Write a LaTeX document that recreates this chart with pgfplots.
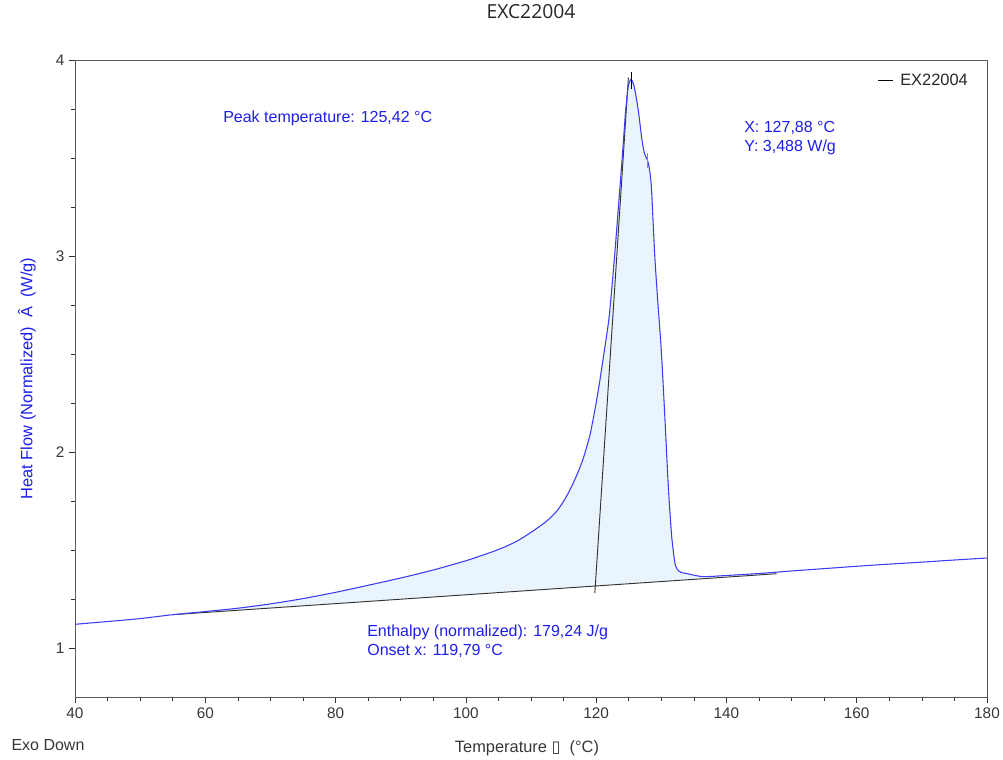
\documentclass[border=0pt]{standalone}
\usepackage{pgfplots}
\pgfplotsset{compat=1.18}
\usepackage{fontspec}
\setmainfont{Liberation Sans}
\newfontfamily\titlefont{Open Sans}
\newfontfamily\symfont{DejaVu Sans}
\usetikzlibrary{calc}
\definecolor{curveblue}{RGB}{60,60,245}
\definecolor{textblue}{RGB}{30,30,235}
\definecolor{fillblue}{RGB}{234,244,253}
\definecolor{ticklab}{RGB}{55,55,55}
\pgfplotstableread{
T Y
40 1.121
45 1.135
50 1.150
55 1.170
60 1.186
65 1.203
70 1.225
75 1.252
80 1.284
85 1.320
90 1.357
95 1.398
100 1.445
102 1.467
104 1.490
106 1.516
108 1.548
110 1.590
111 1.613
112 1.637
113 1.665
114 1.700
115 1.748
116 1.808
117 1.880
118 1.965
119 2.080
119.5 2.160
120 2.250
120.5 2.350
121 2.460
121.5 2.570
122 2.690
122.5 2.870
123 3.070
123.5 3.285
124 3.500
124.5 3.730
124.9 3.860
125.2 3.895
125.42 3.900
125.8 3.870
126.2 3.800
126.6 3.710
127.0 3.600
127.4 3.525
127.88 3.488
128.2 3.440
128.5 3.340
129.0 3.000
129.5 2.750
129.9 2.570
130.2 2.400
130.57 2.163
131.08 1.823
131.6 1.568
132.1 1.432
132.5 1.400
133.0 1.386
134.0 1.379
136.4 1.364
140 1.370
145 1.380
150 1.393
155 1.405
160 1.417
165 1.428
170 1.438
175 1.449
180 1.459
}\curve
\pgfplotstableread{
T Y
55 1.170
60 1.186
65 1.203
70 1.225
75 1.252
80 1.284
85 1.320
90 1.357
95 1.398
100 1.445
102 1.467
104 1.490
106 1.516
108 1.548
110 1.590
111 1.613
112 1.637
113 1.665
114 1.700
115 1.748
116 1.808
117 1.880
118 1.965
119 2.080
119.5 2.160
120 2.250
120.5 2.350
121 2.460
121.5 2.570
122 2.690
122.5 2.870
123 3.070
123.5 3.285
124 3.500
124.5 3.730
124.9 3.860
125.2 3.895
125.42 3.900
125.8 3.870
126.2 3.800
126.6 3.710
127.0 3.600
127.4 3.525
127.88 3.488
128.2 3.440
128.5 3.340
129.0 3.000
129.5 2.750
129.9 2.570
130.2 2.400
130.57 2.163
131.08 1.823
131.6 1.568
132.1 1.432
132.5 1.400
133.0 1.386
134.0 1.379
136.4 1.358
136.4 1.354
55 1.170
}\area
\begin{document}
\begin{tikzpicture}
\begin{axis}[
  scale only axis,
  width=684pt, height=477.75pt,
  xmin=40, xmax=180, ymin=0.75, ymax=4,
  xtick={40,60,...,180}, ytick={1,2,3,4},
  minor x tick num=3, minor y tick num=3,
  tick align=outside,
  xtick pos=bottom, ytick pos=left,
  major tick length=4.5pt, minor tick length=3pt,
  tick style={black!80, line width=0.5pt},
  axis line style={black!65, line width=0.6pt},
  /pgf/number format/assume math mode=true,
  ticklabel style={font=\fontsize{11.5}{13}\selectfont, text=ticklab},
  xlabel={Temperature {\symfont ▯}\ \ (°C)},
  ylabel={Heat Flow (Normalized)\ \ Â\ \ (W/g)},
  xlabel style={at={(axis description cs:0.4956,-0.080)}, anchor=center, font=\fontsize{12.3}{14}\selectfont, text=ticklab},
  ylabel style={at={(axis description cs:-0.0526,0.5)}, anchor=center, font=\fontsize{12.3}{14}\selectfont, text=textblue},
  title={EXC22004},
  title style={at={(axis description cs:0.5,1.0628)}, anchor=center, font=\titlefont\fontsize{14.5}{16}\selectfont, text=black!85},
  clip=false,
]
\coordinate (bl) at (rel axis cs:0,0);
\coordinate (tr) at (rel axis cs:1,1);
\addplot[draw=none, fill=fillblue, smooth, tension=0.4] table[x=T,y=Y] {\area};
\addplot[black!80, line width=0.7pt] coordinates {(55,1.170) (147.7,1.379)};
\addplot[black!80, line width=0.7pt] coordinates {(119.8,1.28) (124.95,3.91)};
\addplot[curveblue, line width=0.8pt, smooth, tension=0.4] table[x=T,y=Y] {\curve};
\addplot[black, line width=0.7pt] coordinates {(125.42,3.85) (125.42,3.94)};
\addplot[black!45, line width=1pt] coordinates {(127.88,3.45) (127.88,3.525)};
\addplot[black, line width=0.6pt] coordinates {(163.3,3.898) (165.6,3.898)};
\node[anchor=west, font=\fontsize{12.3}{14}\selectfont, text=black!85, inner sep=0pt] at (axis cs:166.65,3.898) {EX22004};
\node[anchor=west, font=\fontsize{12}{14}\selectfont, text=textblue, inner sep=0pt] at (axis cs:62.72,3.704) {Peak temperature: 125,42 °C};
\node[anchor=west, font=\fontsize{12}{14}\selectfont, text=textblue, inner sep=0pt] at (axis cs:142.7,3.653) {X: 127,88 °C};
\node[anchor=west, font=\fontsize{12}{14}\selectfont, text=textblue, inner sep=0pt] at (axis cs:142.7,3.556) {Y: 3,488 W/g};
\node[anchor=west, font=\fontsize{12}{14}\selectfont, text=textblue, inner sep=0pt] at (axis cs:84.83,1.082) {Enthalpy (normalized): 179,24 J/g};
\node[anchor=west, font=\fontsize{12}{14}\selectfont, text=textblue, inner sep=0pt] at (axis cs:84.83,0.985) {Onset x: 119,79 °C};
\node[anchor=center, font=\fontsize{12}{14}\selectfont, text=ticklab] at (axis description cs:-0.0296,-0.0754) {Exo Down};
\end{axis}
\pgfresetboundingbox
\path ($(bl)+(-56.25pt,-47.25pt)$) rectangle ($(tr)+(12pt,45pt)$);
\end{tikzpicture}
\end{document}
